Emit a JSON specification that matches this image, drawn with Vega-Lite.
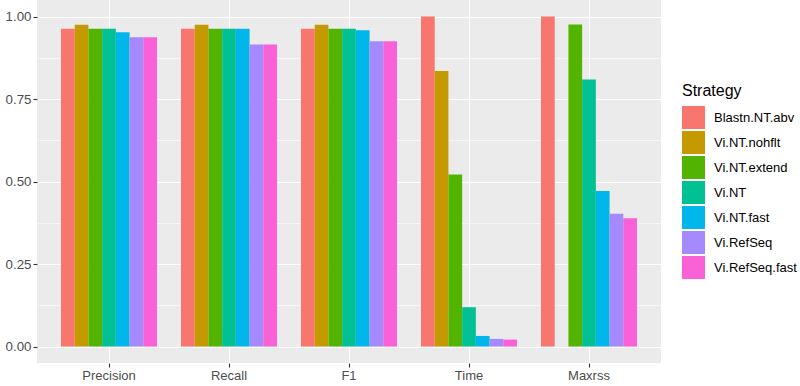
{
  "$schema": "https://vega.github.io/schema/vega-lite/v6.json",
  "width": 624,
  "height": 363,
  "autosize": {"type": "none"},
  "padding": {"left": 37, "top": 0, "right": 139, "bottom": 23},
  "background": "white",
  "config": {
    "view": {"fill": "#EBEBEB", "stroke": null},
    "font": "Liberation Sans"
  },
  "data": {
    "values": [
      {"metric": "Precision", "Strategy": "Blastn.NT.abv", "value": 0.963},
      {"metric": "Precision", "Strategy": "Vi.NT.nohflt", "value": 0.975},
      {"metric": "Precision", "Strategy": "Vi.NT.extend", "value": 0.963},
      {"metric": "Precision", "Strategy": "Vi.NT", "value": 0.963},
      {"metric": "Precision", "Strategy": "Vi.NT.fast", "value": 0.952},
      {"metric": "Precision", "Strategy": "Vi.RefSeq", "value": 0.937},
      {"metric": "Precision", "Strategy": "Vi.RefSeq.fast", "value": 0.937},
      {"metric": "Recall", "Strategy": "Blastn.NT.abv", "value": 0.963},
      {"metric": "Recall", "Strategy": "Vi.NT.nohflt", "value": 0.975},
      {"metric": "Recall", "Strategy": "Vi.NT.extend", "value": 0.963},
      {"metric": "Recall", "Strategy": "Vi.NT", "value": 0.963},
      {"metric": "Recall", "Strategy": "Vi.NT.fast", "value": 0.963},
      {"metric": "Recall", "Strategy": "Vi.RefSeq", "value": 0.915},
      {"metric": "Recall", "Strategy": "Vi.RefSeq.fast", "value": 0.915},
      {"metric": "F1", "Strategy": "Blastn.NT.abv", "value": 0.963},
      {"metric": "F1", "Strategy": "Vi.NT.nohflt", "value": 0.975},
      {"metric": "F1", "Strategy": "Vi.NT.extend", "value": 0.963},
      {"metric": "F1", "Strategy": "Vi.NT", "value": 0.963},
      {"metric": "F1", "Strategy": "Vi.NT.fast", "value": 0.958},
      {"metric": "F1", "Strategy": "Vi.RefSeq", "value": 0.925},
      {"metric": "F1", "Strategy": "Vi.RefSeq.fast", "value": 0.925},
      {"metric": "Time", "Strategy": "Blastn.NT.abv", "value": 1.0},
      {"metric": "Time", "Strategy": "Vi.NT.nohflt", "value": 0.835},
      {"metric": "Time", "Strategy": "Vi.NT.extend", "value": 0.521},
      {"metric": "Time", "Strategy": "Vi.NT", "value": 0.119},
      {"metric": "Time", "Strategy": "Vi.NT.fast", "value": 0.032},
      {"metric": "Time", "Strategy": "Vi.RefSeq", "value": 0.023},
      {"metric": "Time", "Strategy": "Vi.RefSeq.fast", "value": 0.021},
      {"metric": "Maxrss", "Strategy": "Blastn.NT.abv", "value": 1.0},
      {"metric": "Maxrss", "Strategy": "Vi.NT.extend", "value": 0.976},
      {"metric": "Maxrss", "Strategy": "Vi.NT", "value": 0.809},
      {"metric": "Maxrss", "Strategy": "Vi.NT.fast", "value": 0.471},
      {"metric": "Maxrss", "Strategy": "Vi.RefSeq", "value": 0.402},
      {"metric": "Maxrss", "Strategy": "Vi.RefSeq.fast", "value": 0.389}
    ]
  },
  "mark": {"type": "bar", "stroke": null},
  "encoding": {
    "x": {
      "field": "metric",
      "type": "nominal",
      "sort": ["Precision", "Recall", "F1", "Time", "Maxrss"],
      "scale": {"paddingInner": 0.2, "paddingOuter": 0.2},
      "axis": {
        "title": null,
        "labelAngle": 0,
        "domain": false,
        "bandPosition": 0.5,
        "grid": true,
        "gridColor": "white",
        "gridWidth": 1.1,
        "tickColor": "#333333",
        "tickSize": 4,
        "tickWidth": 1.1,
        "labelColor": "#4D4D4D",
        "labelFontSize": 13,
        "labelPadding": 2
      }
    },
    "xOffset": {
      "field": "Strategy",
      "type": "nominal",
      "sort": ["Blastn.NT.abv", "Vi.NT.nohflt", "Vi.NT.extend", "Vi.NT", "Vi.NT.fast", "Vi.RefSeq", "Vi.RefSeq.fast"],
      "scale": {"domain": ["Blastn.NT.abv", "Vi.NT.nohflt", "Vi.NT.extend", "Vi.NT", "Vi.NT.fast", "Vi.RefSeq", "Vi.RefSeq.fast"], "paddingInner": 0, "paddingOuter": 0}
    },
    "y": {
      "field": "value",
      "type": "quantitative",
      "scale": {"domain": [-0.05, 1.05], "nice": false, "zero": false},
      "axis": {
        "title": null,
        "values": [0, 0.125, 0.25, 0.375, 0.5, 0.625, 0.75, 0.875, 1.0],
        "labelExpr": "(datum.value * 4) % 1 == 0 ? format(datum.value, '.2f') : ''",
        "domain": false,
        "grid": true,
        "gridColor": "white",
        "gridWidth": {"condition": {"test": "(datum.value * 4) % 1 == 0", "value": 1.1}, "value": 0.55},
        "tickColor": "#333333",
        "tickOpacity": {"condition": {"test": "(datum.value * 4) % 1 == 0", "value": 1}, "value": 0},
        "tickSize": 4,
        "tickWidth": 1.1,
        "labelColor": "#4D4D4D",
        "labelFontSize": 13.3,
        "labelPadding": 2
      }
    },
    "color": {
      "field": "Strategy",
      "type": "nominal",
      "sort": ["Blastn.NT.abv", "Vi.NT.nohflt", "Vi.NT.extend", "Vi.NT", "Vi.NT.fast", "Vi.RefSeq", "Vi.RefSeq.fast"],
      "scale": {
        "domain": ["Blastn.NT.abv", "Vi.NT.nohflt", "Vi.NT.extend", "Vi.NT", "Vi.NT.fast", "Vi.RefSeq", "Vi.RefSeq.fast"],
        "range": ["#F8766D", "#C49A00", "#53B400", "#00C094", "#00B6EB", "#A58AFF", "#FB61D7"]
      },
      "legend": {
        "orient": "none",
        "legendX": 645,
        "legendY": 83,
        "title": "Strategy",
        "titleFontSize": 16,
        "titleFontWeight": "normal",
        "titleColor": "black",
        "titlePadding": 7,
        "symbolType": "square",
        "symbolSize": 529,
        "symbolStrokeWidth": 0,
        "symbolOpacity": 1,
        "rowPadding": 2,
        "labelFontSize": 13,
        "labelColor": "black",
        "labelOffset": 9
      }
    }
  }
}
